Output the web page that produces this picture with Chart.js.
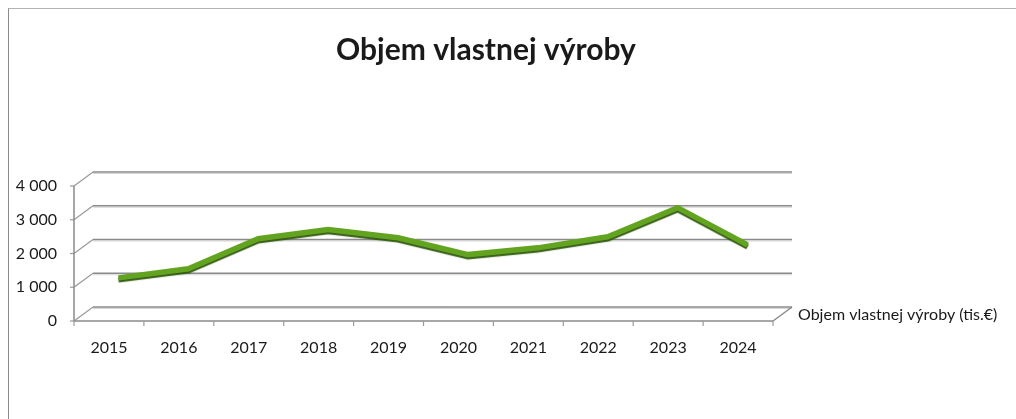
<!DOCTYPE html>
<html>
<head>
<meta charset="utf-8">
<script src="https://cdn.jsdelivr.net/npm/chart.js@4/dist/chart.umd.min.js"></script>
<style>
    html, body { margin: 0; padding: 0; background: #fff; overflow: hidden; }
    #frame {
        position: absolute; left: 8px; top: 8px; width: 1100px; height: 500px;
        border-left: 1px solid #8c8c8c; border-top: 1px solid #b4b4b4;
    }
    #wrap { position: absolute; left: 0; top: 0; width: 1016px; height: 419px; }
</style>
</head>
<body>
<div id="frame"></div>
<div id="wrap"><canvas id="productionChart" width="1016" height="419"></canvas></div>
<script>
// chart data
const years = ['2015', '2016', '2017', '2018', '2019', '2020', '2021', '2022', '2023', '2024'];
const volume = [1070, 1340, 2230, 2500, 2260, 1760, 1960, 2290, 3150, 2050];
const yTicks = [0, 1000, 2000, 3000, 4000];
const chartTitle = 'Objem vlastnej výroby';
const seriesLabel = 'Objem vlastnej výroby (tis.€)';

// fake 3d depth of the plot walls
const DEPTH_X = 19;
const DEPTH_Y = -14;
const FONT = 'Lato, "Open Sans", sans-serif';

function formatThousands(value) {
    return String(value).replace(/\B(?=(\d{3})+(?!\d))/g, ' ');
}

const wallPlugin = {
    id: 'wall3d',
    beforeDatasetsDraw(chart) {
        const { ctx, chartArea } = chart;
        const { left, right, bottom } = chartArea;
        const yScale = chart.scales.y;
        const xScale = chart.scales.x;

        ctx.save();
        ctx.lineCap = 'butt';

        // back wall gridlines + side wall diagonals
        yTicks.forEach(v => {
            const y = yScale.getPixelForValue(v);
            ctx.strokeStyle = '#d6d6d6';
            ctx.lineWidth = 1;
            ctx.beginPath();
            ctx.moveTo(left + DEPTH_X, y + DEPTH_Y + 1.5);
            ctx.lineTo(right + DEPTH_X, y + DEPTH_Y + 1.5);
            ctx.stroke();

            ctx.strokeStyle = '#8a8a8a';
            ctx.lineWidth = 1.5;
            ctx.beginPath();
            ctx.moveTo(left + DEPTH_X, y + DEPTH_Y);
            ctx.lineTo(right + DEPTH_X, y + DEPTH_Y);
            ctx.stroke();

            ctx.strokeStyle = '#9a9a9a';
            ctx.lineWidth = 1.2;
            ctx.beginPath();
            ctx.moveTo(left, y);
            ctx.lineTo(left + DEPTH_X, y + DEPTH_Y);
            ctx.stroke();

            ctx.beginPath();
            ctx.moveTo(left - 4, y);
            ctx.lineTo(left, y);
            ctx.stroke();
        });

        // front vertical axis
        ctx.strokeStyle = '#8a8a8a';
        ctx.lineWidth = 1.5;
        ctx.beginPath();
        ctx.moveTo(left, yScale.getPixelForValue(yTicks[yTicks.length - 1]));
        ctx.lineTo(left, bottom);
        ctx.stroke();

        // floor front edge and right diagonal
        ctx.beginPath();
        ctx.moveTo(left, bottom);
        ctx.lineTo(right, bottom);
        ctx.moveTo(right, bottom);
        ctx.lineTo(right + DEPTH_X, bottom + DEPTH_Y);
        ctx.stroke();

        // category tick marks at boundaries
        ctx.strokeStyle = '#9a9a9a';
        ctx.lineWidth = 1.2;
        for (let i = 0; i <= years.length; i += 1) {
            let x;
            if (i === 0) x = left;
            else if (i === years.length) x = right;
            else x = (xScale.getPixelForValue(i - 1) + xScale.getPixelForValue(i)) / 2;
            ctx.beginPath();
            ctx.moveTo(x, bottom);
            ctx.lineTo(x, bottom + 5);
            ctx.stroke();
        }
        ctx.restore();

        // the ribbon sits half way into the depth
        ctx.save();
        ctx.translate(DEPTH_X / 2, DEPTH_Y / 2);
        ctx.shadowColor = 'rgba(45, 85, 12, 0.95)';
        ctx.shadowOffsetY = 2;
        ctx.shadowBlur = 1;
    },
    afterDatasetsDraw(chart) {
        chart.ctx.restore();
    },
    afterDraw(chart) {
        const { ctx, chartArea } = chart;
        ctx.save();
        ctx.fillStyle = '#1a1a1a';
        ctx.textBaseline = 'middle';

        ctx.font = 'bold 30px ' + FONT;
        ctx.textAlign = 'center';
        ctx.fillText(chartTitle, 486, 50);

        ctx.font = '16px ' + FONT;
        ctx.textAlign = 'left';
        ctx.fillText(seriesLabel, chartArea.right + 25, chartArea.bottom - 6);
        ctx.restore();
    }
};

new Chart(document.getElementById('productionChart'), {
    type: 'line',
    data: {
        labels: years,
        datasets: [{
            label: seriesLabel,
            data: volume,
            borderColor: '#62a420',
            borderWidth: 5.5,
            pointRadius: 0,
            tension: 0,
            clip: false
        }]
    },
    options: {
        responsive: false,
        animation: false,
        layout: {
            padding: { left: 0, top: 186, right: 243, bottom: 0 }
        },
        plugins: {
            legend: { display: false },
            tooltip: { enabled: false },
            title: { display: false }
        },
        scales: {
            x: {
                offset: true,
                grid: { display: false, drawTicks: false },
                border: { display: false },
                ticks: {
                    color: '#1a1a1a',
                    font: { family: FONT, size: 16 },
                    padding: 17,
                    maxRotation: 0
                },
                afterFit: (scale) => { scale.height = 98; }
            },
            y: {
                min: 0,
                max: 4000,
                grid: { display: false, drawTicks: false },
                border: { display: false },
                afterBuildTicks: (scale) => {
                    scale.ticks = yTicks.map(v => ({ value: v }));
                },
                ticks: {
                    color: '#1a1a1a',
                    font: { family: FONT, size: 16 },
                    padding: 17,
                    callback: (value) => formatThousands(value)
                },
                afterFit: (scale) => { scale.width = 74; }
            }
        }
    },
    plugins: [wallPlugin]
});
</script>
</body>
</html>
